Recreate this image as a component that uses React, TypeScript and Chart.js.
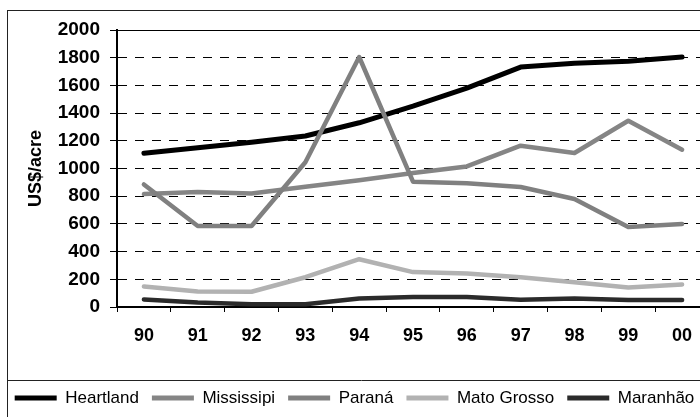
import React, { useEffect, useRef } from 'react';
import { Chart, registerables } from 'chart.js';

Chart.register(...registerables);

const categories = ['90', '91', '92', '93', '94', '95', '96', '97', '98', '99', '00'];
const heartland = [1110, 1150, 1190, 1235, 1330, 1450, 1580, 1732, 1760, 1775, 1805];
const mississipi = [815, 830, 820, 868, 915, 968, 1015, 1165, 1112, 1345, 1136];
const parana = [885, 585, 585, 1045, 1805, 905, 893, 866, 780, 578, 600];
const matoGrosso = [148, 112, 110, 215, 345, 252, 242, 215, 178, 140, 163];
const maranhao = [55, 32, 20, 20, 62, 72, 72, 52, 62, 50, 50];

const seriesNames = ['Heartland', 'Mississipi', 'Paraná', 'Mato Grosso', 'Maranhão'];
const seriesValues = [heartland, mississipi, parana, matoGrosso, maranhao];
const seriesColors = ['#000000', '#858585', '#808080', '#b2b2b2', '#2b2b2b'];

const yMin = 0;
const yMax = 2000;
const yStep = 200;
const yTitle = 'US$/acre';

const W = 716;
const H = 440;
const FONT = "'Liberation Sans', Arial, sans-serif";

const framePlugin = {
  id: 'frame',
  beforeDraw(chart: any) {
    const { ctx, width, height } = chart;
    ctx.save();
    ctx.fillStyle = '#ffffff';
    ctx.fillRect(0, 0, width, height);
    ctx.strokeStyle = '#222222';
    ctx.lineWidth = 1;
    ctx.strokeRect(7.5, 10.5, width, height);
    const ly = Math.round(chart.legend.top) + 3.5;
    ctx.beginPath();
    ctx.moveTo(7, ly);
    ctx.lineTo(width, ly);
    ctx.stroke();
    ctx.restore();
  },
  beforeDatasetsDraw(chart: any) {
    const { ctx, chartArea } = chart;
    ctx.save();
    ctx.strokeStyle = '#000000';
    ctx.lineWidth = 1;
    const y = Math.round(chartArea.top) + 0.5;
    ctx.beginPath();
    ctx.moveTo(chartArea.left - 7, y);
    ctx.lineTo(chartArea.right, y);
    ctx.stroke();
    ctx.restore();
  },
};

export default function App() {
  const ref = useRef<HTMLCanvasElement>(null);

  useEffect(() => {
    if (!ref.current) return;
    const chart = new Chart(ref.current, {
      type: 'line',
      data: {
        labels: categories,
        datasets: seriesNames.map((name, i) => ({
          label: name,
          data: seriesValues[i],
          borderColor: seriesColors[i],
          backgroundColor: seriesColors[i],
          borderWidth: i === 0 ? 5 : 4.5,
          borderCapStyle: 'round',
          borderJoinStyle: 'round',
          pointRadius: 0,
          tension: 0,
          fill: false,
          order: seriesNames.length - i,
        })),
      },
      options: {
        responsive: false,
        animation: false,
        events: [],
        layout: { padding: { left: 0, right: 7, top: 30, bottom: 23.5 } },
        plugins: {
          tooltip: { enabled: false },
          legend: {
            position: 'bottom',
            align: 'center',
            labels: {
              color: '#000000',
              font: { family: FONT, size: 17 },
              boxWidth: 42,
              boxHeight: 5,
              padding: 13,
              generateLabels: (c: any) => {
                const items = Chart.defaults.plugins.legend.labels.generateLabels(c);
                return items
                  .map((it: any) => ({ ...it, fillStyle: seriesColors[it.datasetIndex], lineWidth: 0 }))
                  .sort((a: any, b: any) => a.datasetIndex - b.datasetIndex);
              },
            },
          },
        },
        scales: {
          x: {
            type: 'category',
            offset: true,
            grid: {
              display: true,
              drawOnChartArea: false,
              drawTicks: true,
              tickLength: 5,
              offset: true,
              color: '#000000',
            },
            border: { display: true, color: '#000000', width: 2 },
            ticks: {
              color: '#000000',
              font: { family: FONT, size: 18, weight: 'bold' },
              padding: 13,
              maxRotation: 0,
              autoSkip: false,
            },
            afterFit: (s: any) => {
              s.height = 69.5;
            },
          },
          y: {
            min: yMin,
            max: yMax,
            grid: {
              color: '#000000',
              lineWidth: 1,
              drawTicks: true,
              tickLength: 7,
              tickColor: '#000000',
            },
            border: { display: true, color: '#000000', width: 2, dash: [9, 8] },
            ticks: {
              stepSize: yStep,
              color: '#000000',
              font: { family: FONT, size: 19, weight: 'bold' },
              padding: 10,
              callback: (v: any) => String(v),
            },
            title: {
              display: true,
              text: yTitle,
              color: '#000000',
              font: { family: FONT, size: 18, weight: 'bold' },
              padding: { top: 25, bottom: 0 },
            },
            afterFit: (s: any) => {
              s.width = 117;
            },
          },
        },
      },
      plugins: [framePlugin],
    } as any);
    return () => chart.destroy();
  }, []);

  return (
    <div style={{ position: 'absolute', left: 0, top: 0, width: 700, height: 417, overflow: 'hidden', background: '#fff' }}>
      <div style={{ width: W, height: H }}>
        <canvas ref={ref} width={W} height={H} style={{ display: 'block' }} />
      </div>
    </div>
  );
}
